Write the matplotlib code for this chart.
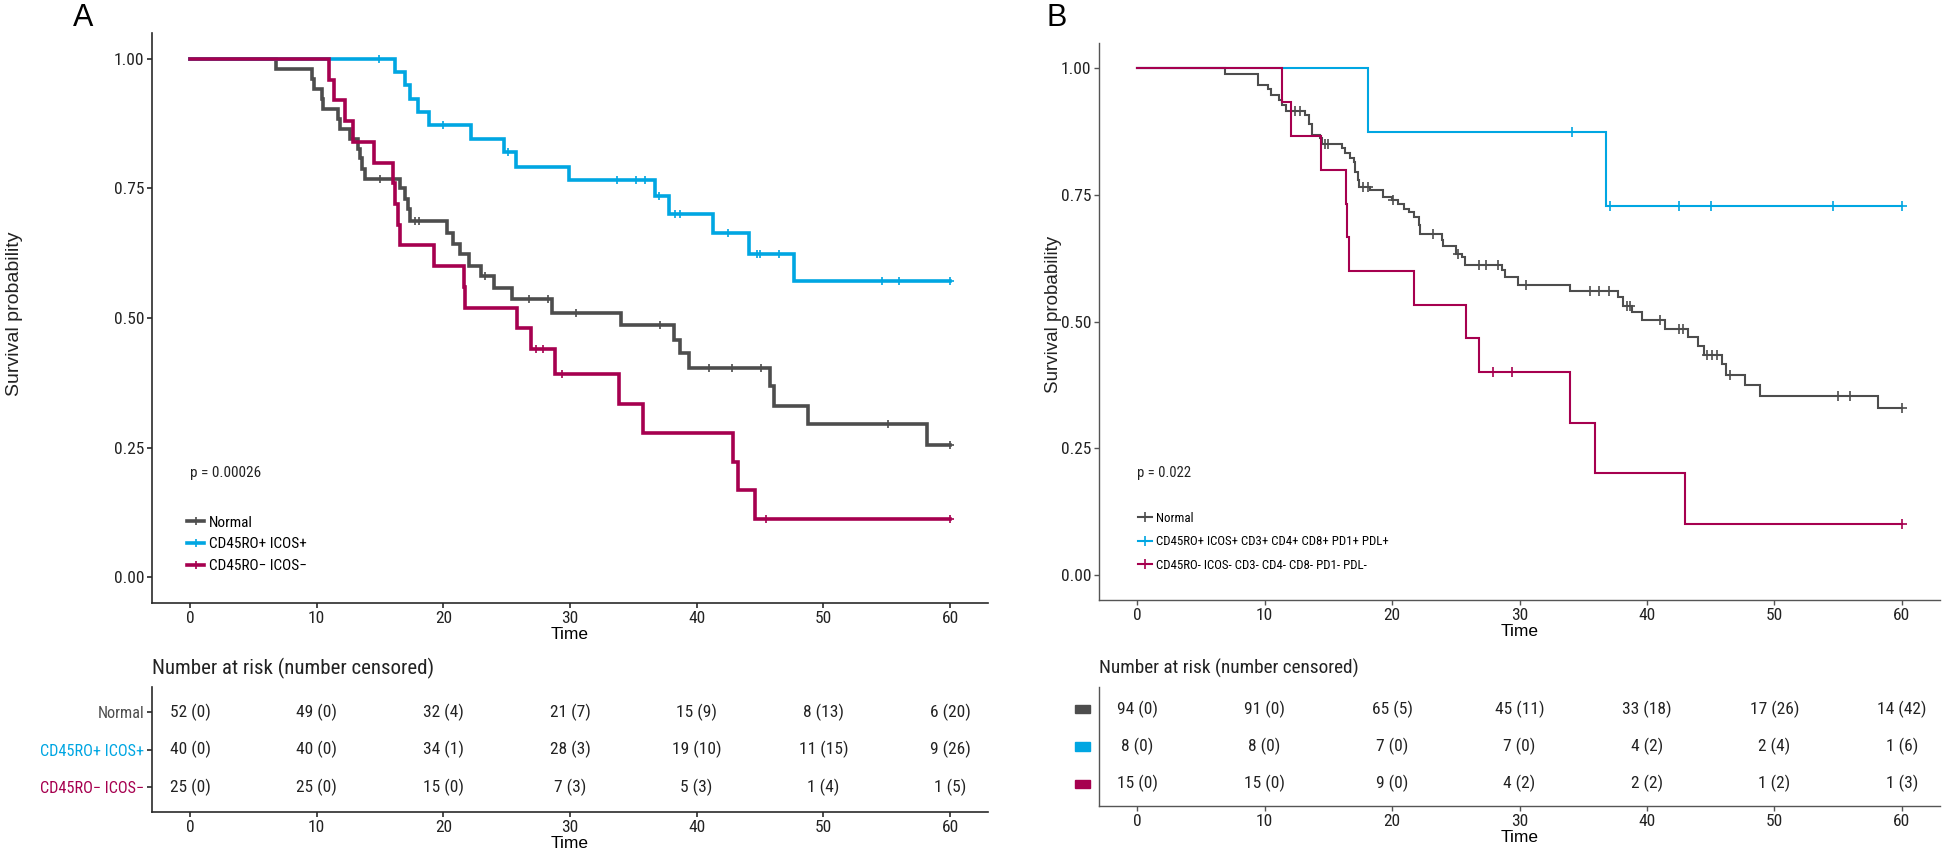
import numpy as np
import matplotlib
matplotlib.use("Agg")
import matplotlib.pyplot as plt
from matplotlib import font_manager
from matplotlib.lines import Line2D
from matplotlib.patches import Rectangle
import matplotlib.transforms as mtrans

# ---------------- data ----------------
# panel A: step times / survival levels after each step, censor times
a_normal_t = [6.8, 9.6, 9.75, 10.4, 10.5, 11.7, 11.85, 12.6, 13.3, 13.45, 13.6, 13.8,
              16.6, 17.0, 17.2, 17.4, 20.3, 20.8, 21.3, 22.0, 23.0, 24.0, 25.4, 28.6,
              34.0, 38.2, 38.7, 39.4, 45.8, 46.1, 48.8, 58.2]
a_normal_s = [0.981, 0.962, 0.942, 0.923, 0.904, 0.885, 0.865, 0.846, 0.827, 0.808, 0.788, 0.769,
              0.750, 0.730, 0.710, 0.687, 0.665, 0.642, 0.623, 0.600, 0.581, 0.558, 0.536, 0.510,
              0.487, 0.458, 0.433, 0.404, 0.368, 0.331, 0.295, 0.254]
a_normal_c = [15.0, 17.8, 18.1, 23.3, 26.8, 28.3, 30.5, 37.1, 41.0, 42.8, 45.1, 55.1, 60.0]

a_pos_t = [16.2, 17.0, 17.4, 18.0, 18.9, 22.2, 24.8, 25.7, 29.9, 36.7, 37.8, 41.3, 44.1, 47.7]
a_pos_s = [0.974, 0.949, 0.923, 0.897, 0.872, 0.846, 0.820, 0.792, 0.766, 0.736, 0.700, 0.665,
           0.623, 0.571]
a_pos_c = [14.9, 20.0, 25.1, 33.7, 35.2, 35.9, 37.0, 38.3, 38.7, 42.5, 44.8, 45.0, 46.5,
           54.6, 56.0, 60.0]

a_neg_t = [11.0, 11.4, 12.2, 12.9, 14.5, 16.0, 16.2, 16.4, 16.6, 19.3, 21.6, 21.7, 25.8, 26.9,
           28.8, 33.9, 35.8, 42.9, 43.3, 44.6]
a_neg_s = [0.96, 0.92, 0.88, 0.84, 0.80, 0.76, 0.72, 0.68, 0.64, 0.60, 0.56, 0.52, 0.48, 0.44,
           0.391, 0.335, 0.279, 0.223, 0.168, 0.112]
a_neg_c = [27.3, 27.9, 29.4, 45.5, 60.0]

# panel B
b_normal_t = [6.85, 9.5, 10.3, 10.5, 11.1, 11.4, 11.7, 13.2, 13.5, 13.7, 14.35, 14.5, 16.05,
              16.3, 16.7, 17.0, 17.1, 17.3, 17.4, 18.3, 19.3, 20.0, 20.5, 20.9, 21.3, 21.7,
              22.1, 22.2, 23.9, 24.0, 25.0, 25.5, 25.7, 28.6, 28.9, 29.9, 34.0, 37.75, 38.1,
              38.8, 39.6, 41.4, 43.2, 44.0, 44.5, 45.9, 46.2, 47.7, 48.9, 58.1]
b_normal_s = [0.989, 0.968, 0.960, 0.947, 0.937, 0.927, 0.916, 0.908, 0.891, 0.868, 0.863, 0.851,
              0.842, 0.832, 0.822, 0.815, 0.795, 0.779, 0.766, 0.759, 0.746, 0.739, 0.733, 0.723,
              0.716, 0.706, 0.690, 0.673, 0.660, 0.649, 0.634, 0.627, 0.611, 0.601, 0.587, 0.573,
              0.561, 0.548, 0.531, 0.518, 0.502, 0.485, 0.469, 0.452, 0.434, 0.416, 0.394, 0.374,
              0.353, 0.329]
b_normal_c = [12.4, 12.8, 14.7, 15.0, 17.75, 18.1, 20.1, 23.2, 25.2, 26.8, 27.4, 28.3, 30.5,
              35.5, 36.2, 37.0, 38.4, 38.7, 41.0, 42.5, 42.8, 44.7, 45.1, 45.5, 46.5, 55.0,
              55.9, 60.0]

b_pos_t = [18.1, 36.8]
b_pos_s = [0.875, 0.729]
b_pos_c = [34.1, 37.1, 42.5, 45.0, 54.6, 60.0]

b_neg_t = [11.4, 12.1, 14.4, 16.4, 16.5, 16.6, 21.7, 25.8, 26.8, 34.0, 35.9, 43.0]
b_neg_s = [0.933, 0.867, 0.800, 0.733, 0.667, 0.600, 0.533, 0.467, 0.400, 0.300, 0.200, 0.100]
b_neg_c = [27.9, 29.4, 60.0]

# risk tables
risk_times = [0, 10, 20, 30, 40, 50, 60]
a_normal_risk = [52, 49, 32, 21, 15, 8, 6]
a_normal_cens = [0, 0, 4, 7, 9, 13, 20]
a_pos_risk = [40, 40, 34, 28, 19, 11, 9]
a_pos_cens = [0, 0, 1, 3, 10, 15, 26]
a_neg_risk = [25, 25, 15, 7, 5, 1, 1]
a_neg_cens = [0, 0, 0, 3, 3, 4, 5]

b_normal_risk = [94, 91, 65, 45, 33, 17, 14]
b_normal_cens = [0, 0, 5, 11, 18, 26, 42]
b_pos_risk = [8, 8, 7, 7, 4, 2, 1]
b_pos_cens = [0, 0, 0, 0, 2, 4, 6]
b_neg_risk = [15, 15, 9, 4, 2, 1, 1]
b_neg_cens = [0, 0, 0, 2, 2, 2, 3]

a_labels = ["Normal", "CD45RO+ ICOS+", "CD45RO\u2212 ICOS\u2212"]
b_labels = ["Normal", "CD45RO+ ICOS+ CD3+ CD4+ CD8+ PD1+ PDL+",
            "CD45RO- ICOS- CD3- CD4- CD8- PD1- PDL-"]
a_pval = "p = 0.00026"
b_pval = "p = 0.022"

GREY = "#4D4D4D"
BLUE = "#00A6E2"
MAG = "#A6004F"
colors = [GREY, BLUE, MAG]

# ---------------- fonts ----------------
# the reference text is horizontally squeezed; use a narrow face if one exists
names = {f.name for f in font_manager.fontManager.ttflist}
NARROW, k = "Liberation Sans", 0.9
for cand, kk in [("Liberation Sans Narrow", 1.0), ("Roboto Condensed", 1.0),
                 ("Open Sans Condensed", 1.0)]:
    if cand in names:
        NARROW, k = cand, kk
        break
plt.rcParams["font.family"] = [NARROW, "DejaVu Sans"]

W, H = 1946, 857
fig = plt.figure(figsize=(W / 100, H / 100), dpi=100)


def box(l, t, r, b):
    return [l / W, 1 - b / H, (r - l) / W, (b - t) / H]


def km(ax, times, levels, cens, color, lw, ms, mew):
    times = np.asarray(times)
    levels = np.asarray(levels)
    x = np.concatenate([[0], times, [60]])
    y = np.concatenate([[1], levels, [levels[-1]]])
    ax.step(x, y, where="post", color=color, lw=lw, solid_joinstyle="miter")
    idx = np.searchsorted(times, cens, side="right") - 1
    cy = np.where(idx >= 0, levels[np.clip(idx, 0, None)], 1.0)
    ax.plot(cens, cy, ls="none", marker="+", color=color, ms=ms, mew=mew)


def style(ax, spine_col, spine_w):
    for s in ["top", "right"]:
        ax.spines[s].set_visible(False)
    for s in ["left", "bottom"]:
        ax.spines[s].set_color(spine_col)
        ax.spines[s].set_linewidth(spine_w)
    ax.tick_params(colors=spine_col, labelcolor="#222222", length=3.5, width=spine_w,
                   labelsize=12.5 * k, pad=2)
    ax.set_xlim(-3, 63)
    ax.set_xticks(risk_times)


def main_panel(rect, curves, labels, pval, psize, lw, ms, mew, spine_col, spine_w, leg_size,
               leg_sp, leg_anchor, ylab_x, ylab_size):
    ax = fig.add_axes(rect)
    for (t, s, c), col in zip(curves, colors):
        km(ax, t, s, c, col, lw, ms, mew)
    style(ax, spine_col, spine_w)
    ax.set_ylim(-0.05, 1.05)
    ax.set_yticks([0, 0.25, 0.5, 0.75, 1.0])
    ax.set_yticklabels(["0.00", "0.25", "0.50", "0.75", "1.00"])
    ax.set_xlabel("Time", fontsize=12.5, family="Liberation Sans", labelpad=1)
    ax.text(0, 0.2, pval, fontsize=psize * k, va="center", ha="left", color="#222222")
    handles = [Line2D([], [], color=col, lw=lw, marker="+", ms=ms, mew=mew) for col in colors]
    ax.legend(handles, labels, loc="upper left", bbox_to_anchor=leg_anchor, frameon=False,
              handlelength=1.1, handletextpad=0.35, labelspacing=leg_sp, borderpad=0,
              borderaxespad=0, prop={"family": NARROW, "size": leg_size * k})
    fig.text(ylab_x / W, 1 - 314 / H, "Survival probability", rotation=90, ha="center",
             va="center", fontsize=ylab_size, family="Liberation Sans", color="#222222")
    return ax


def risk_table(rect, rows, ylim, title, title_size, title_y, spine_col, spine_w):
    ax = fig.add_axes(rect)
    style(ax, spine_col, spine_w)
    ax.set_ylim(*ylim)
    for ypos, (risk, cens) in zip([3, 2, 1], rows):
        for t, r, c in zip(risk_times, risk, cens):
            ax.text(t, ypos, f"{r} ({c})", ha="center", va="center", fontsize=12.5 * k,
                    color="#222222")
    ax.set_xlabel("Time", fontsize=12.5, family="Liberation Sans", labelpad=1)
    fig.text(rect[0], 1 - title_y / H, title, ha="left", va="center",
             fontsize=title_size * k, color="#222222")
    return ax


# ---------------- panel A ----------------
axA = main_panel(box(152, 33, 988, 603),
                 [(a_normal_t, a_normal_s, a_normal_c), (a_pos_t, a_pos_s, a_pos_c),
                  (a_neg_t, a_neg_s, a_neg_c)],
                 a_labels, a_pval, 11, 2.6, 6, 1.2, "#2A2A2A", 1.2, 11, 0.5,
                 (0.042, 0.153), 15, 14)

tabA = risk_table(box(152, 687, 988, 812),
                  [(a_normal_risk, a_normal_cens), (a_pos_risk, a_pos_cens),
                   (a_neg_risk, a_neg_cens)],
                  (0.333, 3.667), "Number at risk (number censored)", 15, 668, "#2A2A2A", 1.2)
tabA.set_yticks([3, 2, 1])
tabA.set_yticklabels(a_labels, fontsize=11.7 * k)
for lab, col in zip(tabA.get_yticklabels(), colors):
    lab.set_color(col)

# ---------------- panel B ----------------
axB = main_panel(box(1099, 43, 1940, 600),
                 [(b_normal_t, b_normal_s, b_normal_c), (b_pos_t, b_pos_s, b_pos_c),
                  (b_neg_t, b_neg_s, b_neg_c)],
                 b_labels, b_pval, 10.5, 1.5, 7, 1.2, "#555555", 1.0, 9.3, 0.8,
                 (0.046, 0.158), 1053, 13.5)

tabB = risk_table(box(1099, 687, 1940, 806),
                  [(b_normal_risk, b_normal_cens), (b_pos_risk, b_pos_cens),
                   (b_neg_risk, b_neg_cens)],
                  (0.4, 3.6), "Number at risk (number censored)", 13.9, 668, "#555555", 1.0)
tabB.set_yticks([])
trans = mtrans.blended_transform_factory(tabB.transAxes, tabB.transData)
for ypos, col in zip([3, 2, 1], colors):
    tabB.add_patch(Rectangle((-0.028, ypos - 0.11), 0.017, 0.22, transform=trans,
                             color=col, clip_on=False))

# panel letters
fig.text(83 / W, 1 - 18 / H, "A", ha="center", va="center", fontsize=22,
         family="Liberation Sans", color="black")
fig.text(1057 / W, 1 - 18 / H, "B", ha="center", va="center", fontsize=22,
         family="Liberation Sans", color="black")

fig.savefig("out.png", dpi=100, facecolor="white")
